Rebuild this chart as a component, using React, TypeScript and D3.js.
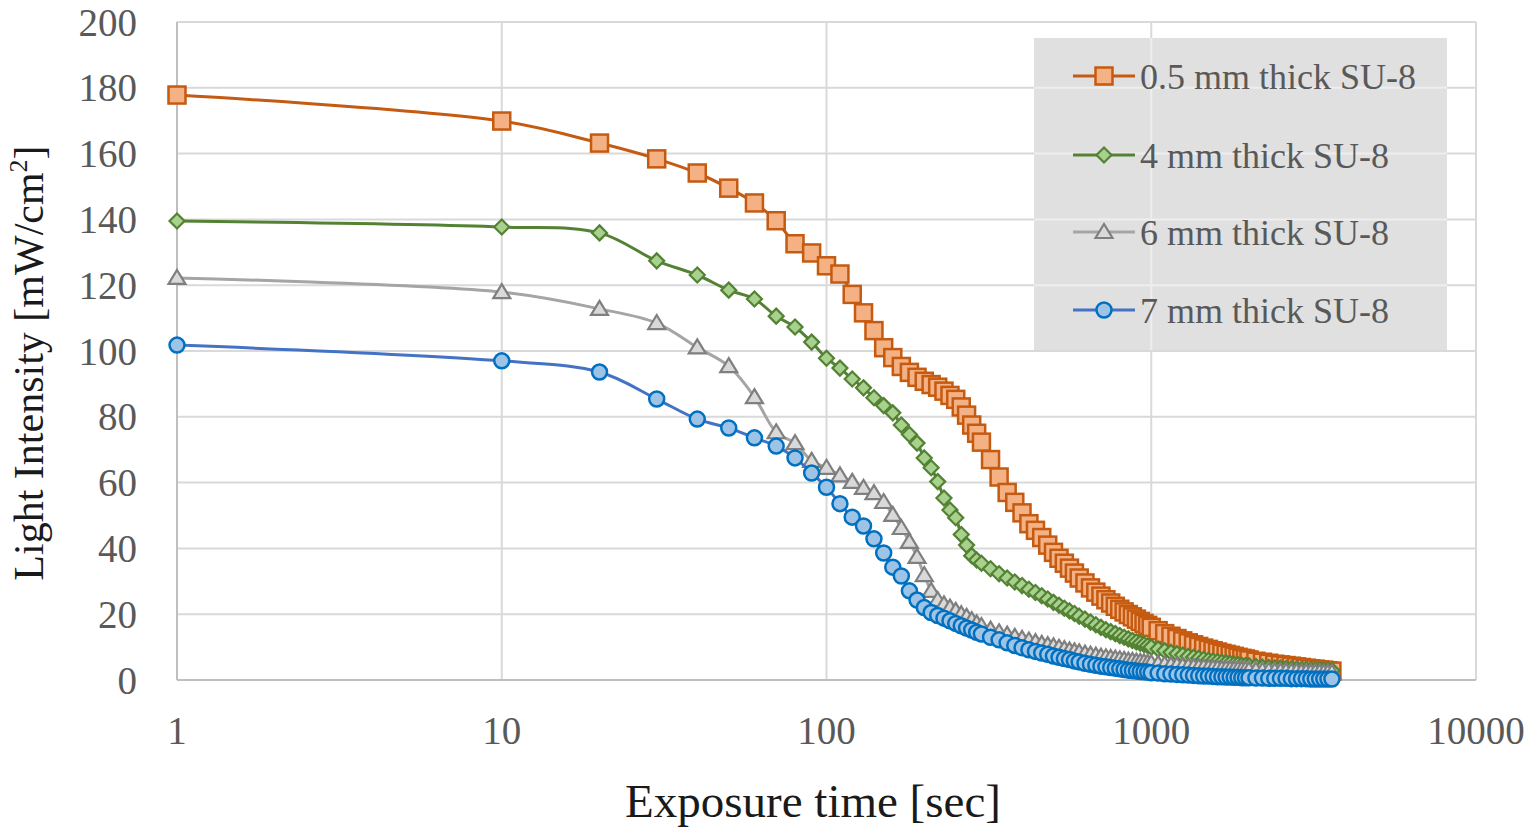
import React from 'react';
import * as d3 from 'd3';

// sample times [sec]
const times = [
  1, 10, 20, 30, 40, 50, 60, 70, 80, 90, 100, 110, 120, 130, 140, 150, 160, 170, 180, 190,
  200, 210, 220, 230, 240, 250, 260, 270, 280, 290, 300,
  320, 340, 360, 380, 400, 420, 440, 460, 480, 500, 520, 540, 560, 580, 600,
  625, 650, 675, 700, 725, 750, 775, 800, 825, 850, 875, 900, 925, 950, 975, 1000,
  1050, 1100, 1150, 1200, 1250, 1300, 1350, 1400, 1450, 1500, 1550, 1600, 1650, 1700,
  1750, 1800, 1850, 1900, 1950, 2000,
  2100, 2200, 2300, 2400, 2500, 2600, 2700, 2800, 2900, 3000, 3100, 3200, 3300, 3400, 3500, 3600,
];

const su8_05mm = [
  177.8, 169.9, 163.2, 158.4, 154.1, 149.5, 145.0, 139.6, 132.6, 129.8, 125.9, 123.4, 117.2, 111.6, 106.2, 101.0, 98.0, 95.3, 93.5, 92.0,
  90.8, 89.8, 89.0, 87.8, 86.5, 85.3, 83.0, 80.5, 77.5, 75.0, 72.3,
  67.0, 61.7, 57.0, 54.0, 50.8, 47.5, 45.5, 43.3, 41.0, 38.8, 37.0, 35.5, 34.0, 32.5, 31.0,
  29.5, 28.0, 26.7, 25.5, 24.4, 23.4, 22.4, 21.5, 20.7, 19.9, 19.2, 18.5, 17.8, 17.2, 16.6, 16.0,
  15.0, 14.1, 13.3, 12.6, 11.9, 11.3, 10.7, 10.2, 9.7, 9.3, 8.9, 8.5, 8.1, 7.8,
  7.5, 7.2, 6.9, 6.6, 6.4, 6.1,
  5.7, 5.4, 5.1, 4.8, 4.6, 4.4, 4.2, 4.0, 3.8, 3.6, 3.4, 3.3, 3.1, 3.0, 2.8, 2.7,
];

const su8_4mm = [
  139.5, 137.7, 135.9, 127.4, 123.1, 118.5, 115.8, 110.6, 107.3, 102.7, 97.8, 94.8, 91.5, 88.8, 85.8, 83.4, 81.2, 77.5, 74.6, 72.0,
  67.5, 64.5, 60.3, 55.3, 51.7, 49.3, 44.2, 41.0, 37.8, 36.5, 35.5,
  33.8, 32.3, 31.0, 29.8, 28.7, 27.6, 26.6, 25.6, 24.6, 23.6, 22.7, 21.8, 21.0, 20.2, 19.4,
  18.5, 17.6, 16.8, 16.0, 15.3, 14.7, 14.1, 13.5, 13.0, 12.5, 12.0, 11.6, 11.2, 10.8, 10.4, 10.0,
  9.4, 8.9, 8.4, 8.0, 7.6, 7.2, 6.9, 6.6, 6.3, 6.0, 5.8, 5.6, 5.4, 5.2,
  5.0, 4.8, 4.7, 4.5, 4.4, 4.3,
  4.1, 3.9, 3.8, 3.7, 3.6, 3.5, 3.4, 3.3, 3.2, 3.2, 3.1, 3.1, 3.0, 3.0, 2.9, 2.9,
];

const su8_6mm = [
  122.2, 117.9, 112.8, 108.5, 101.1, 95.4, 86.0, 75.3, 72.0, 66.6, 64.5, 62.2, 60.2, 58.4, 56.8, 54.1, 50.2, 46.2, 42.0, 37.4,
  31.9, 27.1, 24.3, 23.0, 22.0, 21.0, 20.0, 19.2, 18.2, 17.2, 16.4,
  15.3, 14.5, 13.8, 13.1, 12.5, 12.0, 11.5, 11.0, 10.6, 10.2, 9.8, 9.4, 9.0, 8.7, 8.4,
  8.0, 7.7, 7.4, 7.1, 6.9, 6.7, 6.5, 6.3, 6.1, 5.9, 5.8, 5.6, 5.5, 5.4, 5.2, 5.1,
  4.9, 4.7, 4.5, 4.4, 4.2, 4.1, 4.0, 3.9, 3.8, 3.7, 3.6, 3.5, 3.4, 3.4,
  3.3, 3.2, 3.2, 3.1, 3.1, 3.0,
  2.9, 2.8, 2.8, 2.7, 2.6, 2.6, 2.5, 2.5, 2.4, 2.4, 2.3, 2.3, 2.3, 2.2, 2.2, 2.2,
];

const su8_7mm = [
  101.8, 97.0, 93.6, 85.4, 79.3, 76.6, 73.6, 71.1, 67.5, 62.9, 58.6, 53.6, 49.5, 46.8, 42.9, 38.6, 34.3, 31.6, 27.1, 24.3,
  22.0, 20.5, 19.6, 18.8, 18.0, 17.2, 16.5, 15.8, 15.2, 14.5, 14.0,
  13.0, 12.2, 11.3, 10.5, 9.8, 9.2, 8.7, 8.2, 7.8, 7.3, 6.9, 6.5, 6.2, 5.8, 5.5,
  5.1, 4.8, 4.5, 4.2, 4.0, 3.8, 3.6, 3.4, 3.2, 3.0, 2.9, 2.7, 2.6, 2.5, 2.4, 2.2,
  2.1, 1.9, 1.8, 1.7, 1.6, 1.5, 1.4, 1.3, 1.2, 1.2, 1.1, 1.0, 1.0, 0.9,
  0.9, 0.8, 0.8, 0.7, 0.7, 0.7,
  0.6, 0.6, 0.5, 0.5, 0.5, 0.5, 0.4, 0.4, 0.4, 0.4, 0.3, 0.3, 0.3, 0.3, 0.3, 0.3,
];

const seriesNames = ['0.5 mm thick SU-8', '4 mm thick SU-8', '6 mm thick SU-8', '7 mm thick SU-8'];
const xTicks = [1, 10, 100, 1000, 10000];
const yTicks = [0, 20, 40, 60, 80, 100, 120, 140, 160, 180, 200];

const styles = [
  { line: '#C55A11', fill: '#F4B183', stroke: '#C55A11', shape: 'square' },
  { line: '#548235', fill: '#A9D18E', stroke: '#548235', shape: 'diamond' },
  { line: '#A5A5A5', fill: '#D9D9D9', stroke: '#7F7F7F', shape: 'triangle' },
  { line: '#4472C4', fill: '#9DC3E6', stroke: '#0070C0', shape: 'circle' },
];

const allValues = [su8_05mm, su8_4mm, su8_6mm, su8_7mm];

const W = 1536, H = 834;
const left = 177, right = 1476, top = 22, bottom = 680;
const serif = '"Liberation Serif", "Times New Roman", serif';

function Marker({ shape, x, y, fill, stroke }: any) {
  if (shape === 'square') {
    return <rect x={x - 8.5} y={y - 8.5} width={17} height={17} fill={fill} stroke={stroke} strokeWidth={2.5} />;
  }
  if (shape === 'diamond') {
    return <path d={`M${x},${y - 7.5}L${x + 7.5},${y}L${x},${y + 7.5}L${x - 7.5},${y}Z`} fill={fill} stroke={stroke} strokeWidth={2.2} />;
  }
  if (shape === 'triangle') {
    return <path d={`M${x},${y - 8}L${x + 8.5},${y + 6}L${x - 8.5},${y + 6}Z`} fill={fill} stroke={stroke} strokeWidth={2.2} />;
  }
  return <circle cx={x} cy={y} r={7.5} fill={fill} stroke={stroke} strokeWidth={2.5} />;
}

export default function App() {
  const x = d3.scaleLog().domain([1, 10000]).range([left, right]);
  const y = d3.scaleLinear().domain([0, 200]).range([bottom, top]);
  const line = d3.line<number>()
    .x((_, i) => x(times[i]))
    .y(d => y(d))
    .curve(d3.curveCatmullRom.alpha(0.5));

  const legend = { x: 1034, y: 38, w: 413, h: 312 };
  const legendRows = [76, 155, 232, 310];

  return (
    <svg width={W} height={H} style={{ position: 'absolute', left: 0, top: 0, background: '#fff' }}>
      <defs>
        <clipPath id="legClip">
          <rect x={legend.x} y={legend.y} width={legend.w} height={legend.h} />
        </clipPath>
      </defs>
      {/* gridlines */}
      {yTicks.map(t => (
        <line key={'gy' + t} x1={left} x2={right} y1={y(t)} y2={y(t)} stroke="#D9D9D9" strokeWidth={2} />
      ))}
      {xTicks.map(t => (
        <line key={'gx' + t} x1={x(t)} x2={x(t)} y1={top} y2={bottom} stroke="#D9D9D9" strokeWidth={2} />
      ))}
      {/* axes */}
      <line x1={left} x2={left} y1={top} y2={bottom} stroke="#BFBFBF" strokeWidth={2} />
      <line x1={left} x2={right} y1={bottom} y2={bottom} stroke="#BFBFBF" strokeWidth={2} />

      {/* legend box */}
      <rect x={legend.x} y={legend.y} width={legend.w} height={legend.h} fill="#E0E0E0" />
      <g clipPath="url(#legClip)">
        {yTicks.map(t => (
          <line key={'ly' + t} x1={left} x2={right} y1={y(t)} y2={y(t)} stroke="#EEEEEE" strokeWidth={2} />
        ))}
        {xTicks.map(t => (
          <line key={'lx' + t} x1={x(t)} x2={x(t)} y1={top} y2={bottom} stroke="#EEEEEE" strokeWidth={2} />
        ))}
      </g>

      {/* tick labels */}
      {yTicks.map(t => (
        <text key={'ty' + t} x={137} y={y(t)} dy="0.35em" textAnchor="end" fontFamily={serif} fontSize={39} fill="#595959">{t}</text>
      ))}
      {xTicks.map(t => (
        <text key={'tx' + t} x={x(t)} y={744} textAnchor="middle" fontFamily={serif} fontSize={39} fill="#595959">{t}</text>
      ))}

      {/* axis titles */}
      <text x={813} y={817} textAnchor="middle" fontFamily={serif} fontSize={47} fill="#1a1a1a">Exposure time [sec]</text>
      <text transform="translate(43,363) rotate(-90)" textAnchor="middle" fontFamily={serif} fontSize={42} fill="#1a1a1a">
        Light Intensity [mW/cm<tspan dy={-16} fontSize={26}>2</tspan><tspan dy={16}>]</tspan>
      </text>

      {/* series */}
      {allValues.map((vals, si) => (
        <g key={'s' + si}>
          <path d={line(vals) || ''} fill="none" stroke={styles[si].line} strokeWidth={3} />
          {vals.map((v, i) => (
            <Marker key={i} shape={styles[si].shape} x={x(times[i])} y={y(v)} fill={styles[si].fill} stroke={styles[si].stroke} />
          ))}
        </g>
      ))}

      {/* legend entries */}
      {seriesNames.map((name, i) => (
        <g key={'lg' + i}>
          <line x1={1073} x2={1135} y1={legendRows[i]} y2={legendRows[i]} stroke={styles[i].line} strokeWidth={3} />
          <Marker shape={styles[i].shape} x={1104} y={legendRows[i]} fill={styles[i].fill} stroke={styles[i].stroke} />
          <text x={1140} y={legendRows[i]} dy="0.35em" fontFamily={serif} fontSize={36} fill="#595959">{name}</text>
        </g>
      ))}
    </svg>
  );
}
